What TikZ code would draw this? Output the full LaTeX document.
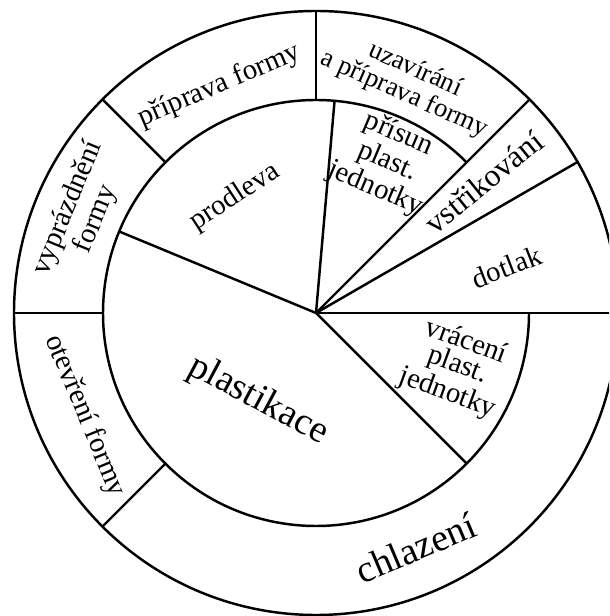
\documentclass[tikz,border=0pt]{standalone}
\usepackage{fontspec}
\setmainfont{Liberation Serif}

\tikzset{
  lbl/.style={font=\fontsize{8.2}{7.0}\selectfont, align=center, inner sep=0pt},
  biglbl/.style={lbl, font=\fontsize{10.8}{12}\selectfont},
  smalllbl/.style={lbl, font=\fontsize{7.6}{7.6}\selectfont}
}

\begin{document}
\begin{tikzpicture}[line width=0.7pt]
  \useasboundingbox (-3.16,-3.03) rectangle (2.93,3.13);
  \clip (-3.16,-3.03) rectangle (2.93,3.13);
  \coordinate (hub) at (0,0);

  % rings
  \draw (hub) circle (3.02);
  \draw (45:2.13) arc[start angle=45, end angle=360, radius=2.13];

  % dividers
  \foreach \a in {0,30,45}
    \draw (hub) -- (\a:3.02);
  \foreach \a in {85,157.5,-45}
    \draw (hub) -- (\a:2.13);
  \foreach \a in {90,135,180,225}
    \draw (\a:2.13) -- (\a:3.02);

  % outer ring
  \node[lbl, rotate=23] (priprava) at (113:2.47) {příprava formy};
  \node[lbl, rotate=67.5] (vyprazdneni) at (157:2.54) {vyprázdnění\\formy};
  \node[lbl, rotate=-67.5] (otevreni) at (204:2.53) {otevření formy};
  \node[biglbl, rotate=23] (chlazeni) at (-67:2.55) {chlazení};
  \node[smalllbl, rotate=-24] (uzavirani) at (67.9:2.49) {uzavírání\\a příprava formy};

  % inner part
  \node[lbl, rotate=-23] (prisun) at (64.8:1.67) {přísun\\plast.\\jednotky};
  \node[lbl, rotate=-20] (vraceni) at (-21.3:1.51) {vrácení\\plast.\\jednotky};
  \node[lbl, font=\fontsize{9}{10}\selectfont, rotate=39] (vstrikovani) at (38:2.13) {vstřikování};
  \node[lbl, rotate=21] (dotlak) at (13.6:1.96) {dotlak};
  \node[lbl, rotate=33] (prodleva) at (125:1.41) {prodleva};
  \node[biglbl, rotate=-28] (plastikace) at (236.6:1.05) {plastikace};
\end{tikzpicture}
\end{document}
